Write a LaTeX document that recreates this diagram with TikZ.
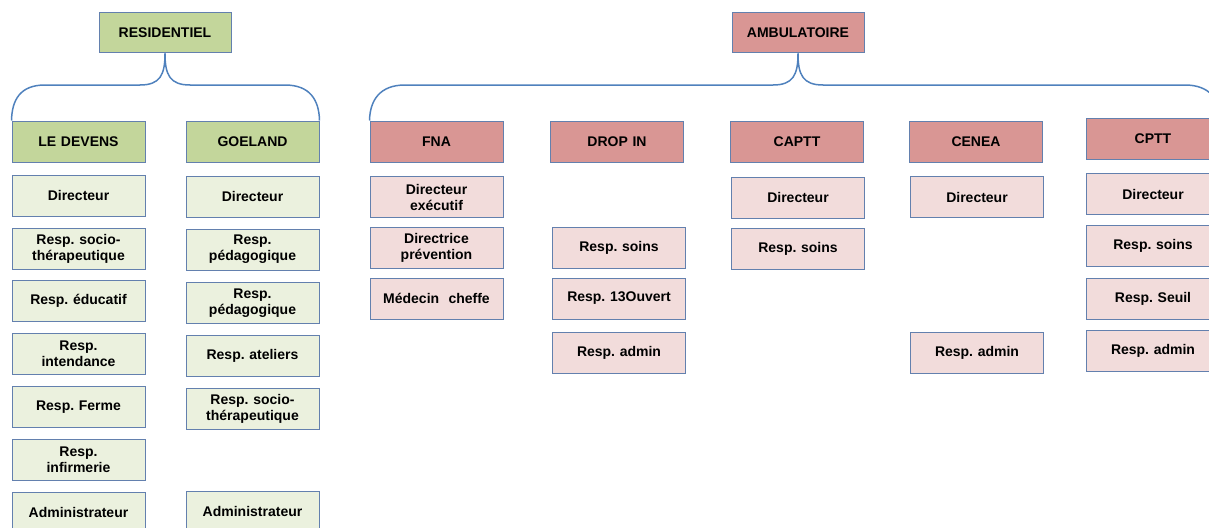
\documentclass[tikz,border=0pt]{standalone}
\usepackage{fontspec}
\setmainfont{Liberation Sans}
\frenchspacing
\definecolor{hgreen}{HTML}{C3D69B}
\definecolor{lgreen}{HTML}{EBF1DE}
\definecolor{hred}{HTML}{D99694}
\definecolor{lred}{HTML}{F2DCDB}
\definecolor{edge}{HTML}{6380AE}
\definecolor{conn}{HTML}{4F81BD}
\tikzset{
  box/.style={draw=edge, line width=1pt, minimum width=133pt, minimum height=41pt, inner sep=1pt,
    align=center, font=\fontsize{14pt}{16pt}\selectfont\bfseries\frenchspacing, text width=125pt},
  ghead/.style={box, fill=hgreen},
  gitem/.style={box, fill=lgreen},
  rhead/.style={box, fill=hred},
  ritem/.style={box, fill=lred},
  conline/.style={draw=conn, line width=1.5pt}
}
\begin{document}
\begin{tikzpicture}[x=1pt,y=-1pt]
\useasboundingbox (0,0) rectangle (1209,527);
\clip (0,0) rectangle (1209,527);
% headers
\node[ghead, minimum width=132pt, minimum height=40pt] (res) at (165,33) {RESIDENTIEL};
\node[ghead] (ld) at (78.5,141.5) {LE DEVENS};
\node[ghead] (goe) at (252.5,141.5) {GOELAND};
\node[rhead, minimum width=132pt, minimum height=40pt] (amb) at (798,33) {AMBULATOIRE};
\node[rhead] (fna) at (436.5,141.5) {FNA};
\node[rhead] (drop) at (617,141.5) {DROP IN};
\node[rhead] (captt) at (797,142) {CAPTT};
\node[rhead] (cenea) at (976,142) {CENEA};
\node[rhead] (cptt) at (1153,138.5) {CPTT};
% LE DEVENS
\node[gitem] (ld1) at (78.5,195.5) {Directeur};
\node[gitem] (ld2) at (78.5,248.5) {Resp. socio-\\thérapeutique};
\node[gitem] (ld3) at (78.5,301) {Resp. éducatif};
\node[gitem] (ld4) at (78.5,354) {Resp.\\intendance};
\node[gitem] (ld5) at (78.5,407) {Resp. Ferme};
\node[gitem] (ld6) at (78.5,460) {Resp.\\infirmerie};
\node[gitem] (ld7) at (78.5,512.5) {Administrateur};
% GOELAND
\node[gitem] (g1) at (252.5,196.5) {Directeur};
\node[gitem] (g2) at (252.5,249.5) {Resp.\\pédagogique};
\node[gitem] (g3) at (252.5,303) {Resp.\\pédagogique};
\node[gitem] (g4) at (252.5,355.5) {Resp. ateliers};
\node[gitem] (g5) at (252.5,408.5) {Resp. socio-\\thérapeutique};
\node[gitem] (g6) at (252.5,511.5) {Administrateur};
% FNA
\node[ritem] (f1) at (436.5,197) {Directeur\\exécutif};
\node[ritem] (f2) at (436.5,247.5) {Directrice\\prévention};
\node[ritem] (f3) at (436.5,298.5) {Médecin\ \ cheffe};
% DROP IN
\node[ritem] (d1) at (619,247.5) {Resp. soins};
\node[ritem] (d2) at (619,298.5) {Resp. 13Ouvert};
\node[ritem] (d3) at (619,353) {Resp. admin};
% CAPTT
\node[ritem] (c1) at (798,197.5) {Directeur};
\node[ritem] (c2) at (798,248.5) {Resp. soins};
% CENEA
\node[ritem] (e1) at (977,197) {Directeur};
\node[ritem] (e2) at (977,353) {Resp. admin};
% CPTT
\node[ritem] (p1) at (1153,194) {Directeur};
\node[ritem] (p2) at (1153,245.5) {Resp. soins};
\node[ritem] (p3) at (1153,299) {Resp. Seuil};
\node[ritem] (p4) at (1153,350.5) {Resp. admin};
% brackets
\draw[conline] (res.south) .. controls (165,75) and (160,85) .. (140,85) -- (45,85)
  .. controls (20,85) and (12,100) .. (ld.north west);
\draw[conline] (res.south) .. controls (165,75) and (170,85) .. (190,85) -- (285,85)
  .. controls (310,85) and (319,100) .. (goe.north east);
\draw[conline] (amb.south) .. controls (798,75) and (793,85) .. (773,85) -- (405,85)
  .. controls (380,85) and (370,100) .. (fna.north west);
\draw[conline] (amb.south) .. controls (798,75) and (803,85) .. (823,85) -- (1185,85)
  .. controls (1210,85) and (1219.5,100) .. (cptt.north east);
\end{tikzpicture}
\end{document}
